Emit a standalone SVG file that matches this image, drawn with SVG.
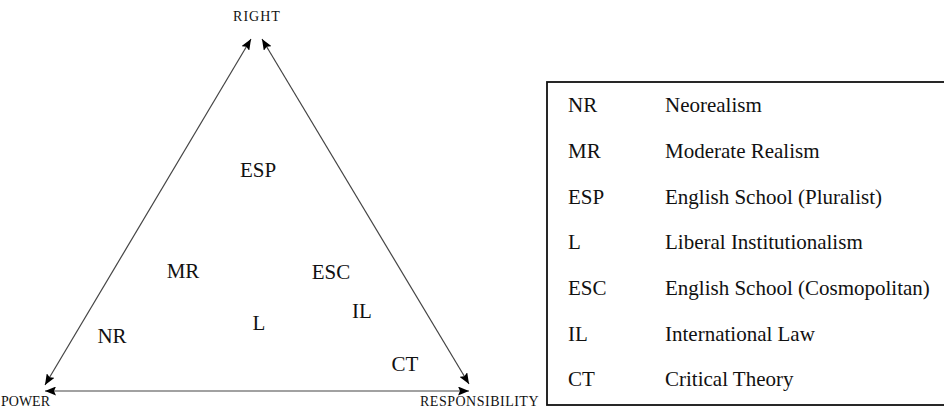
<svg xmlns="http://www.w3.org/2000/svg" width="944" height="408" viewBox="0 0 944 408">
  <style>
    text { font-family: "Liberation Serif", "Times New Roman", serif; fill: #111; }
    .axis { font-size: 14px; }
    .pos { font-size: 21px; text-anchor: middle; }
    .key { font-size: 21px; }
    .edge { stroke: #444; stroke-width: 1.2; fill: none; }
  </style>
  <defs>
    <marker id="tip" viewBox="0 0 11 9" refX="11" refY="4.5" markerWidth="11" markerHeight="9" markerUnits="userSpaceOnUse" orient="auto-start-reverse">
      <path d="M0,0 L11,4.5 L0,9 L2,4.5 Z" fill="#000"/>
    </marker>
  </defs>
  <rect width="944" height="408" fill="#fff"/>

  <!-- triangle sides, each arrowed at both ends -->
  <g id="connectors">
    <line class="edge" x1="45" y1="385" x2="251" y2="39" marker-start="url(#tip)" marker-end="url(#tip)"/>
    <line class="edge" x1="262" y1="39" x2="469" y2="384" marker-start="url(#tip)" marker-end="url(#tip)"/>
    <line class="edge" x1="45" y1="391" x2="469" y2="391" stroke="#666" stroke-width="1.6" marker-start="url(#tip)" marker-end="url(#tip)"/>
  </g>

  <!-- corner labels -->
  <g id="right"><text class="axis" x="257" y="21" text-anchor="middle" letter-spacing="1">RIGHT</text></g>
  <g id="power"><text class="axis" x="1" y="406" font-size="13">POWER</text></g>
  <g id="responsibility"><text class="axis" x="420" y="406" letter-spacing="0.5">RESPONSIBILITY</text></g>

  <!-- theory positions inside the triangle -->
  <g id="pos-esp"><text class="pos" x="258" y="177">ESP</text></g>
  <g id="pos-mr"><text class="pos" x="183" y="278">MR</text></g>
  <g id="pos-esc"><text class="pos" x="331" y="279">ESC</text></g>
  <g id="pos-il"><text class="pos" x="362" y="318">IL</text></g>
  <g id="pos-l"><text class="pos" x="259" y="330">L</text></g>
  <g id="pos-nr"><text class="pos" x="112" y="343">NR</text></g>
  <g id="pos-ct"><text class="pos" x="405" y="371">CT</text></g>

  <!-- key -->
  <g id="legend">
    <rect x="547" y="82" width="420" height="323" fill="none" stroke="#111" stroke-width="1.8"/>
    <g class="key">
      <text x="568" y="112">NR</text><text x="665" y="112">Neorealism</text>
      <text x="568" y="158">MR</text><text x="665" y="158">Moderate Realism</text>
      <text x="568" y="204">ESP</text><text x="665" y="204">English School (Pluralist)</text>
      <text x="568" y="249">L</text><text x="665" y="249">Liberal Institutionalism</text>
      <text x="568" y="295">ESC</text><text x="665" y="295">English School (Cosmopolitan)</text>
      <text x="568" y="341">IL</text><text x="665" y="341">International Law</text>
      <text x="568" y="386">CT</text><text x="665" y="386">Critical Theory</text>
    </g>
  </g>
</svg>
